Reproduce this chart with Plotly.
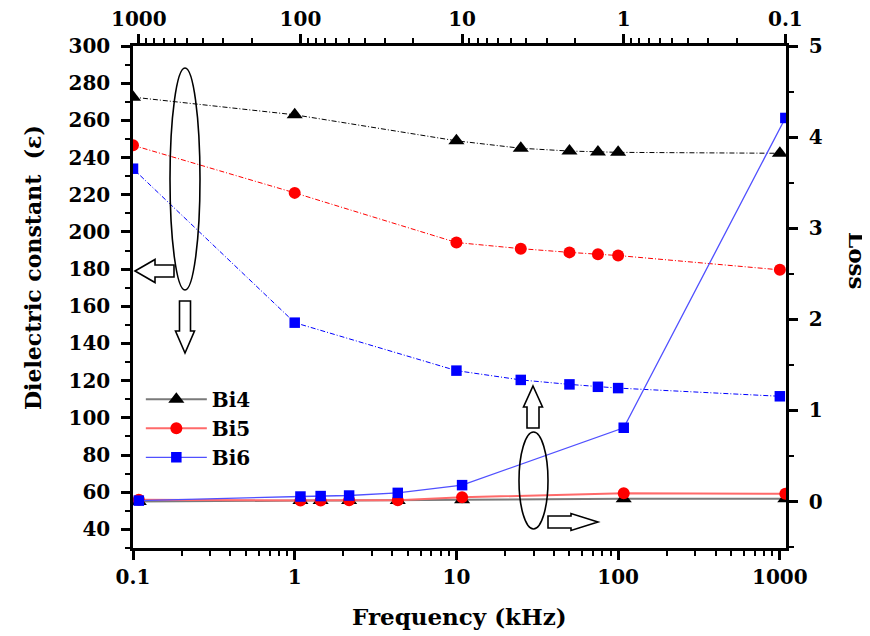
import plotly.graph_objects as go

# ---------------- data ----------------
freq_khz = [0.1, 1, 10, 25, 50, 75, 100, 1000]

# dielectric constant (left axis, bottom frequency axis)
eps_bi4 = [272.5, 263.0, 249.0, 245.0, 243.5, 243.0, 242.8, 242.3]
eps_bi5 = [246.6, 221.0, 194.3, 191.0, 189.0, 188.0, 187.3, 179.6]
eps_bi6 = [234.0, 151.2, 125.4, 120.4, 118.0, 116.7, 116.0, 111.6]

# loss (right axis, top reversed frequency axis)
loss_bi4 = [0.03, 0.03, 0.02, 0.01, 0.01, 0.01, 0.01, 0.00]
loss_bi5 = [0.085, 0.09, 0.047, 0.015, 0.015, 0.01, 0.01, 0.02]
loss_bi6 = [4.21, 0.81, 0.18, 0.095, 0.066, 0.06, 0.055, 0.01]

series_names = ["Bi4", "Bi5", "Bi6"]
freq_ticks = [0.1, 1, 10, 100, 1000]
freq_ticktext = ["0.1", "1", "10", "100", "1000"]
eps_ticks = list(range(40, 301, 20))
loss_ticks = [0, 1, 2, 3, 4, 5]

# ---------------- styling ----------------
FONT = "DejaVu Serif"
OFF = 8  # page body margin of the html page
W, H = 870 - OFF, 636 - OFF
ML, MT = 133 - OFF, 46 - OFF
PW, PH = 653, 502
MR, MB = W - ML - PW, H - MT - PH

colors = ["#000000", "#ff0000", "#0000ff"]
loss_line_colors = ["#7a7a7a", "#ff6a6a", "#5050ff"]
loss_line_widths = [2, 2, 1.3]
symbols = ["triangle-up", "circle", "square"]
sizes = [14, 12, 10.5]

minor_log = [m * 10 ** e for e in (-1, 0, 1, 2) for m in range(2, 10)]

fig = go.Figure()

eps_all = [eps_bi4, eps_bi5, eps_bi6]
loss_all = [loss_bi4, loss_bi5, loss_bi6]

for i in range(3):
    fig.add_trace(go.Scatter(
        x=freq_khz, y=eps_all[i], xaxis="x", yaxis="y",
        mode="lines+markers", name=series_names[i], showlegend=False,
        line=dict(color=colors[i], width=1, dash="5px,2px,1px,2px"),
        marker=dict(symbol=symbols[i], size=sizes[i], color=colors[i]),
    ))
for i in range(3):
    fig.add_trace(go.Scatter(
        x=freq_khz, y=loss_all[i], xaxis="x2", yaxis="y2",
        mode="lines+markers", name=series_names[i], showlegend=True,
        line=dict(color=loss_line_colors[i], width=loss_line_widths[i]),
        marker=dict(symbol=symbols[i], size=sizes[i], color=colors[i]),
    ))

tickfont = dict(family=FONT, size=20, color="black", weight="bold")
common = dict(showgrid=False, zeroline=False, showline=True, linecolor="black",
              linewidth=2.5, ticks="outside", ticklen=9, tickwidth=2.5,
              tickcolor="black", tickfont=tickfont, automargin=False)

fig.update_layout(
    width=W, height=H,
    margin=dict(l=ML, r=MR, t=MT, b=MB, pad=0, autoexpand=False),
    paper_bgcolor="white", plot_bgcolor="white",
    xaxis=dict(type="log", range=[-1.0, 3.038], anchor="y", side="bottom",
               tickvals=freq_ticks, ticktext=freq_ticktext, ticklabelstandoff=0,
               minor=dict(tickvals=minor_log, ticks="outside", ticklen=5,
                          tickwidth=2, tickcolor="black", showgrid=False),
               **common),
    xaxis2=dict(type="log", range=[3.036, -1.004], overlaying="x", anchor="y",
                side="top", tickvals=freq_ticks, ticktext=freq_ticktext,
                ticklabelstandoff=0,
                minor=dict(tickvals=minor_log, ticks="outside", ticklen=5,
                           tickwidth=2, tickcolor="black", showgrid=False),
                **common),
    yaxis=dict(range=[30, 300], anchor="x", side="left", tickvals=eps_ticks,
               ticklabelstandoff=7,
               minor=dict(dtick=10, tick0=30, ticks="outside", ticklen=5,
                          tickwidth=2, tickcolor="black", showgrid=False),
               **common),
    yaxis2=dict(range=[-0.51, 5.0], overlaying="y", anchor="x", side="right",
                tickvals=loss_ticks, ticklabelstandoff=7,
                minor=dict(dtick=0.5, tick0=-0.5, ticks="outside", ticklen=5,
                           tickwidth=2, tickcolor="black", showgrid=False),
                **common),
    legend=dict(x=0.012, y=0.335, xanchor="left", yanchor="top",
                bgcolor="rgba(0,0,0,0)", tracegroupgap=0, itemwidth=61,
                font=dict(family=FONT, size=20, color="black", weight="bold")),
    showlegend=True,
)


def to_paper(x, y):
    # page pixel coordinates -> paper coordinates
    return (x - OFF - ML) / PW, (MT + PH - (y - OFF)) / PH


def label(text, x, y, angle, size):
    px, py = to_paper(x, y)
    fig.add_annotation(text=text, xref="paper", yref="paper", x=px, y=py,
                       xanchor="center", yanchor="middle", textangle=angle,
                       showarrow=False,
                       font=dict(family=FONT, size=size, color="black", weight="bold"))


label("Dielectric constant  (ε)", 33, 268, -90, 22)
label("Loss", 857, 260, 90, 23)
label("Frequency (kHz)", 459, 617, 0, 23)


# ---------------- decorations: ellipses and block arrows ----------------
def ellipse(x0, y0, x1, y1):
    px0, py0 = to_paper(x0, y1)
    px1, py1 = to_paper(x1, y0)
    fig.add_shape(type="circle", xref="paper", yref="paper",
                  x0=px0, y0=py0, x1=px1, y1=py1,
                  line=dict(color="black", width=1.6), fillcolor="rgba(0,0,0,0)")


def block_arrow(tip, tail, head_len, head_half, shaft_half):
    tx_, ty_ = tip
    sx, sy = tail
    L = ((tx_ - sx) ** 2 + (ty_ - sy) ** 2) ** 0.5
    dx, dy = (tx_ - sx) / L, (ty_ - sy) / L
    nx, ny = -dy, dx
    bx, by = tx_ - dx * head_len, ty_ - dy * head_len
    pts = [
        (tx_, ty_),
        (bx + nx * head_half, by + ny * head_half),
        (bx + nx * shaft_half, by + ny * shaft_half),
        (sx + nx * shaft_half, sy + ny * shaft_half),
        (sx - nx * shaft_half, sy - ny * shaft_half),
        (bx - nx * shaft_half, by - ny * shaft_half),
        (bx - nx * head_half, by - ny * head_half),
    ]
    pp = [to_paper(*p) for p in pts]
    path = "M " + " L ".join(f"{a:.5f},{b:.5f}" for a, b in pp) + " Z"
    fig.add_shape(type="path", path=path, xref="paper", yref="paper",
                  line=dict(color="black", width=1.6), fillcolor="white")


ellipse(170, 68, 200, 290)
block_arrow((135, 271), (174, 271), 20, 11.5, 6)
block_arrow((185, 353), (185, 301), 22, 9.5, 5.5)
ellipse(519, 432, 548, 529)
block_arrow((533, 386), (533, 428), 21, 9.5, 6)
block_arrow((598, 522), (548, 522), 27, 8.5, 6)

fig.write_html("out.html")
